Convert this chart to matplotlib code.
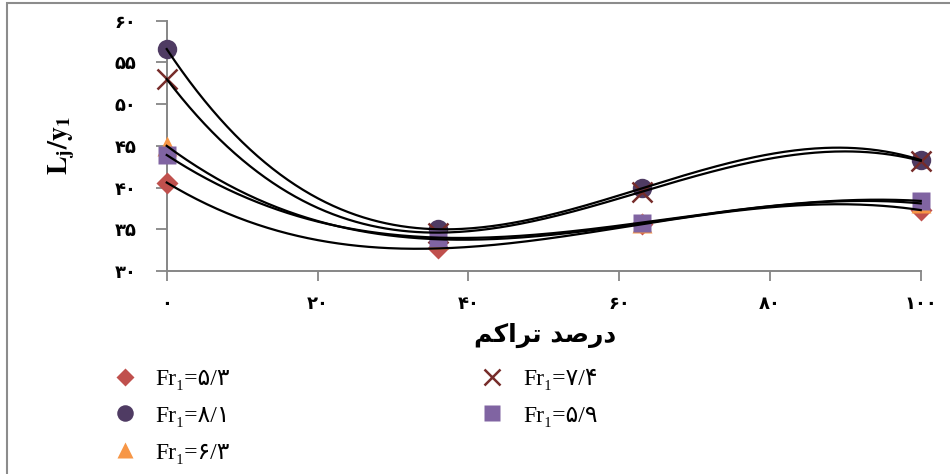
"""L_j/y_1 vs. concentration percentage with cubic trendlines for several Fr_1."""

import matplotlib.pyplot as plt
import numpy as np
from matplotlib.patches import Rectangle

plt.rcParams["mathtext.fontset"] = "stix"

# concentration (%)
X = [0, 36, 63, 100]

# L_j / y_1 per Froude number
FR_53 = [40.6, 32.7, 35.6, 37.3]
FR_81 = [56.6, 35.0, 39.9, 43.3]
FR_63 = [45.0, 33.8, 35.7, 38.1]
FR_74 = [53.0, 34.6, 39.5, 43.2]
FR_59 = [43.9, 34.0, 35.8, 38.4]

LABELS = ["Fr₁=۵/۳", "Fr₁=۸/۱", "Fr₁=۶/۳", "Fr₁=۷/۴", "Fr₁=۵/۹"]
SERIES = [FR_53, FR_81, FR_63, FR_74, FR_59]
MARKERS = ["D", "o", "^", "x", "s"]
COLORS = ["#C0504D", "#4F3B63", "#F79646", "#772C2A", "#8064A2"]
SIZES = [11, 14, 14, 14, 13]

XTICKS = [0, 20, 40, 60, 80, 100]
XTICK_LABELS = ["۰", "۲۰", "۴۰", "۶۰", "۸۰", "۱۰۰"]
YTICKS = [30, 35, 40, 45, 50, 55, 60]
YTICK_LABELS = ["۳۰", "۳۵", "۴۰", "۴۵", "۵۰", "۵۵", "۶۰"]

# "درصد تراکم" in shaped presentation forms, visual (left-to-right) order
XLABEL = "\uFEE2\uFB90\uFE8D\uFEAE\uFE97 \uFEAA\uFEBB\uFEAD\uFEA9"

fig = plt.figure(figsize=(9.5, 4.74), dpi=100)
ax = fig.add_axes([0.1755, 0.4283, 0.7937, 0.528])

xs = np.linspace(0, 100, 300)
for ys, lab, m, c, s in zip(SERIES, LABELS, MARKERS, COLORS, SIZES):
    if m == "x":
        ax.plot(X, ys, ls="none", marker=m, ms=s, mew=1.8, color=c, label=lab,
                clip_on=False, zorder=3)
    else:
        ax.plot(X, ys, ls="none", marker=m, ms=s, mec="none", color=c, label=lab,
                clip_on=False, zorder=3)
for ys in SERIES:
    coef = np.polyfit(X, ys, 3)
    ax.plot(xs, np.polyval(coef, xs), color="black", lw=1.6, zorder=4, clip_on=False)

ax.set_xlim(0, 100)
ax.set_ylim(30, 60)
ax.set_xticks(XTICKS)
ax.set_xticklabels(XTICK_LABELS, fontsize=13, fontweight="bold")
ax.set_yticks(YTICKS)
ax.set_yticklabels(YTICK_LABELS, fontsize=13, fontweight="bold")
ax.tick_params(axis="x", direction="out", length=7, width=1.3, color="#868686", pad=10)
ax.tick_params(axis="y", direction="out", length=8, width=1.3, color="#868686", pad=14)
for side in ["top", "right"]:
    ax.spines[side].set_visible(False)
for side in ["left", "bottom"]:
    ax.spines[side].set_color("#868686")
    ax.spines[side].set_linewidth(1.4)

fig.text(62 / 950, 1 - 145 / 474, r"$\mathbf{L_j/y_1}$", rotation=90,
         fontsize=20, ha="center", va="center")
fig.text(545 / 950, 1 - 335 / 474, XLABEL, fontsize=18, fontweight="bold",
         ha="center", va="center")

fig.legend(loc="upper left", bbox_to_anchor=(80 / 950, 1 - 347 / 474), ncol=2,
           frameon=False, prop={"family": ["Liberation Serif", "DejaVu Sans"], "size": 17},
           handletextpad=0.3, columnspacing=10.1, labelspacing=0.65, markerscale=0.85)

fig.patches.append(Rectangle((7 / 950, -0.1), 2, 1 - 3 / 474 + 0.1, transform=fig.transFigure,
                             fill=False, edgecolor="#8c8c8c", lw=1.5))

fig.savefig("out.png", dpi=100)
